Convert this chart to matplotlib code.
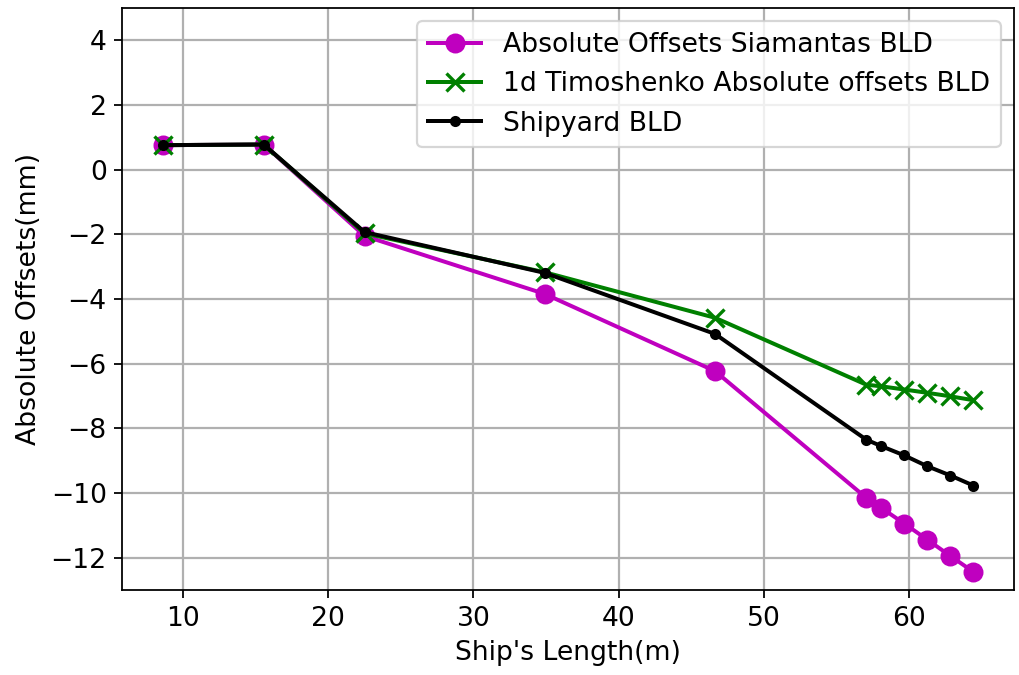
import numpy as np
import matplotlib
matplotlib.use("Agg")
import matplotlib.pyplot as plt

plt.rcParams['font.size'] = 12

# ship length stations (m)
length = [8.6, 15.55, 22.5, 34.9, 46.65, 57.07, 58.1, 59.7, 61.26, 62.87, 64.45]

# absolute offsets (mm)
siamantas = [0.76, 0.78, -2.05, -3.84, -6.23, -10.15, -10.46, -10.95, -11.44, -11.95, -12.44]
timoshenko = [0.76, 0.78, -1.97, -3.17, -4.58, -6.65, -6.70, -6.80, -6.90, -7.01, -7.13]
shipyard = [0.76, 0.78, -1.93, -3.19, -5.08, -8.35, -8.55, -8.84, -9.17, -9.46, -9.77]

fig = plt.figure(figsize=(1019 / 160, 675 / 160), dpi=160)
ax = fig.add_axes([0.12, 0.126, 0.875, 0.862])

ax.plot(length, siamantas, color='m', marker='o', markersize=8, linewidth=1.8,
        label='Absolute Offsets Siamantas BLD')
ax.plot(length, timoshenko, color='green', marker='x', markersize=8, linewidth=1.8,
        markeredgewidth=1.5, label='1d Timoshenko Absolute offsets BLD')
ax.plot(length, shipyard, color='black', marker='.', markersize=8, linewidth=1.8,
        label='Shipyard BLD')

ax.set_xlabel("Ship's Length(m)")
ax.set_ylabel('Absolute Offsets(mm)')
ax.set_ylim(-13, 5)
ax.set_yticks(np.arange(-12, 5, 2))
ax.grid(True, color='#b0b0b0', linewidth=1)
ax.legend(loc='upper right')

fig.savefig('out.png', dpi=160)
